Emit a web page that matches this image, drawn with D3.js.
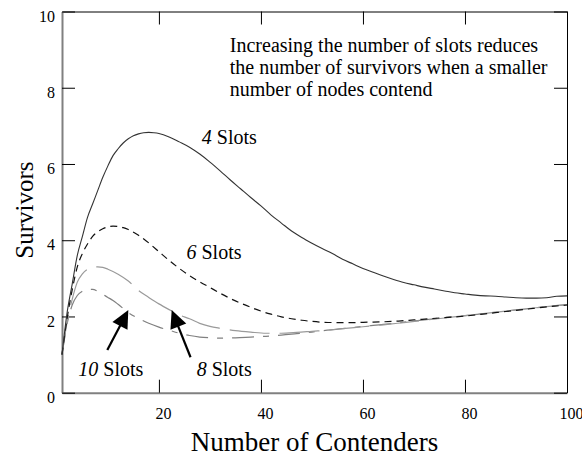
<!DOCTYPE html>
<html>
<head>
<meta charset="utf-8">
<script src="https://cdn.jsdelivr.net/npm/d3@7"></script>
<style>
  html, body { margin: 0; padding: 0; background: #fff; }
  svg { display: block; font-family: "Liberation Serif", "Times New Roman", serif; }
</style>
</head>
<body>
<svg id="chart" width="582" height="458"></svg>
<script>
// ---------------- data ----------------
const xTicks = [20, 40, 60, 80, 100];
const yTicks = [0, 2, 4, 6, 8, 10];

const x4 = [1,2,3,4,5,6,7,8,9,10,11,12,13,14,15,16,17,18,19,20,22,24,26,28,30,32,34,36,38,40,42,44,46,48,50,52,54,56,58,60,62,64,66,68,70,72,74,76,78,80,82,84,86,88,90,92,94,96,98,100];
const slots4 = [1,2.1,2.85,3.6,4.1,4.6,4.95,5.3,5.65,5.95,6.22,6.4,6.55,6.66,6.74,6.79,6.82,6.83,6.82,6.8,6.71,6.58,6.44,6.26,6.05,5.82,5.58,5.35,5.12,4.9,4.66,4.45,4.24,4.07,3.92,3.78,3.65,3.5,3.38,3.26,3.16,3.06,2.97,2.89,2.83,2.77,2.72,2.67,2.62,2.59,2.56,2.54,2.53,2.51,2.49,2.48,2.48,2.49,2.53,2.54];

const x6 = [1,2,3,4,5,6,7,8,9,10,11,12,13,14,16,18,20,22,24,26,28,30,32,34,36,38,40,42,44,46,48,50,52,55,58,61,64,67,70,73,76,80,84,88,92,96,100];
const slots6 = [1,1.95,2.7,3.3,3.65,3.9,4.1,4.22,4.3,4.35,4.37,4.36,4.33,4.28,4.13,3.93,3.7,3.47,3.26,3.07,2.91,2.76,2.61,2.47,2.35,2.24,2.14,2.06,1.99,1.94,1.9,1.87,1.85,1.84,1.84,1.85,1.86,1.88,1.91,1.94,1.97,2.01,2.07,2.13,2.19,2.25,2.3];

const x8 = [1,2,3,4,5,6,7,8,9,10,12,14,16,18,20,22,24,26,28,30,32,35,38,41,44,47,50,53,56,60,64,68,72,76,80,84,88,92,96,100];
const slots8 = [1,1.85,2.45,2.9,3.12,3.24,3.29,3.3,3.29,3.24,3.11,2.93,2.68,2.5,2.33,2.18,2.04,1.94,1.82,1.74,1.69,1.63,1.59,1.56,1.56,1.58,1.61,1.64,1.68,1.73,1.78,1.84,1.9,1.96,2.02,2.08,2.14,2.2,2.26,2.31];

const x10 = [1,2,3,4,5,6,7,8,9,10,11,12,14,16,18,20,22,24,26,28,30,32,35,38,41,44,47,50,53,56,60,64,68,72,76,80,84,88,92,96,100];
const slots10 = [1,1.8,2.3,2.55,2.66,2.71,2.71,2.66,2.58,2.5,2.42,2.32,2.1,1.95,1.82,1.72,1.64,1.56,1.5,1.46,1.44,1.43,1.44,1.46,1.48,1.51,1.55,1.59,1.64,1.68,1.74,1.79,1.85,1.91,1.97,2.02,2.08,2.14,2.2,2.26,2.31];

const noteLines = ["Increasing the number of slots reduces",
                   "the number of survivors when a smaller",
                   "number of nodes contend"];

// ---------------- layout ----------------
const svg = d3.select("#chart");
const x = d3.scaleLinear().domain([1, 100]).range([62, 567]);
const y = d3.scaleLinear().domain([0, 10]).range([392.7, 11.5]);
const TICK = 13;

// axes
const gB = svg.append("g").attr("transform", `translate(0,${y(0)})`)
  .call(d3.axisBottom(x).tickValues(xTicks).tickSizeInner(-TICK).tickSizeOuter(0).tickPadding(15));
gB.select(".domain").attr("stroke", "#808080").attr("stroke-width", 2);
gB.selectAll(".tick line").attr("stroke", "#000");
gB.selectAll(".tick text").attr("font-size", 16).attr("font-family", "Liberation Serif, serif")
  .attr("fill", "#000").attr("dx", 4);

const gT = svg.append("g").attr("transform", `translate(0,${y(10)})`)
  .call(d3.axisTop(x).tickValues(xTicks).tickSizeInner(-TICK).tickSizeOuter(0).tickFormat(""));
gT.select(".domain").attr("stroke", "#000").attr("stroke-width", 1);
gT.selectAll(".tick line").attr("stroke", "#000");

const gL = svg.append("g").attr("transform", `translate(${x(1)},0)`)
  .call(d3.axisLeft(y).tickValues(yTicks).tickSizeInner(-TICK).tickSizeOuter(0).tickPadding(7));
gL.select(".domain").attr("stroke", "#808080").attr("stroke-width", 2);
gL.selectAll(".tick line").attr("stroke", "#000");
gL.selectAll(".tick text").attr("font-size", 16).attr("font-family", "Liberation Serif, serif")
  .attr("fill", "#000").attr("dy", "0.6em");

const gR = svg.append("g").attr("transform", `translate(${x(100)},0)`)
  .call(d3.axisRight(y).tickValues(yTicks).tickSizeInner(-TICK).tickSizeOuter(0).tickFormat(""));
gR.select(".domain").attr("stroke", "#000").attr("stroke-width", 1);
gR.selectAll(".tick line").attr("stroke", "#000");

// axis titles
svg.append("text").attr("x", (x(1) + x(100)) / 2).attr("y", 451)
  .attr("text-anchor", "middle").attr("font-size", 27).text("Number of Contenders");
svg.append("text").attr("transform", `translate(33,${(y(0) + y(10)) / 2 + 8}) rotate(-90)`)
  .attr("text-anchor", "middle").attr("font-size", 25).text("Survivors");

// series
const series = [
  { xs: x4,  ys: slots4,  color: "#333",  width: 1.1, dash: null },
  { xs: x6,  ys: slots6,  color: "#111",  width: 1.2, dash: "7,5" },
  { xs: x8,  ys: slots8,  color: "#9a9a9a", width: 1.2, dash: "40,10" },
  { xs: x10, ys: slots10, color: "#808080", width: 1.2, dash: "22,9,6,9" }
];
const line = d3.line().x(d => x(d[0])).y(d => y(d[1])).curve(d3.curveMonotoneX);
series.slice().reverse().forEach(s => {
  svg.append("path")
    .datum(s.xs.map((v, i) => [v, s.ys[i]]))
    .attr("fill", "none")
    .attr("stroke", s.color)
    .attr("stroke-width", s.width)
    .attr("stroke-dasharray", s.dash)
    .attr("d", line);
});

// series labels
const labels = [
  { num: "4",  vx: 28.4, vy: 6.52 },
  { num: "6",  vx: 25.4, vy: 3.51 },
  { num: "10", vx: 4.2,  vy: 0.44 },
  { num: "8",  vx: 27.4, vy: 0.44 }
];
labels.forEach(l => {
  const t = svg.append("text").attr("x", x(l.vx)).attr("y", y(l.vy)).attr("font-size", 20);
  t.append("tspan").attr("font-style", "italic").text(l.num);
  t.append("tspan").text(" Slots");
});

// note
const note = svg.append("text").attr("font-size", 20);
noteLines.forEach((s, i) => {
  note.append("tspan").attr("x", x(33.9)).attr("y", y(8.94) + i * 22).text(s);
});

// arrows
const arrows = [
  { from: [9.88, 1.12], to: [14.0, 2.17] },
  { from: [26.2, 0.93], to: [22.5, 2.17] }
];
arrows.forEach(a => {
  const x0 = x(a.from[0]), y0 = y(a.from[1]), x1 = x(a.to[0]), y1 = y(a.to[1]);
  const len = Math.hypot(x1 - x0, y1 - y0);
  const ux = (x1 - x0) / len, uy = (y1 - y0) / len;
  const hl = 18, hw = 8.5;
  const bx = x1 - ux * hl, by = y1 - uy * hl;
  svg.append("line").attr("x1", x0).attr("y1", y0).attr("x2", bx + ux * 2).attr("y2", by + uy * 2)
    .attr("stroke", "#000").attr("stroke-width", 2.2);
  svg.append("polygon")
    .attr("points", [[x1, y1], [bx - uy * hw, by + ux * hw], [bx + uy * hw, by - ux * hw]].map(p => p.join(",")).join(" "))
    .attr("fill", "#000");
});
</script>
</body>
</html>
